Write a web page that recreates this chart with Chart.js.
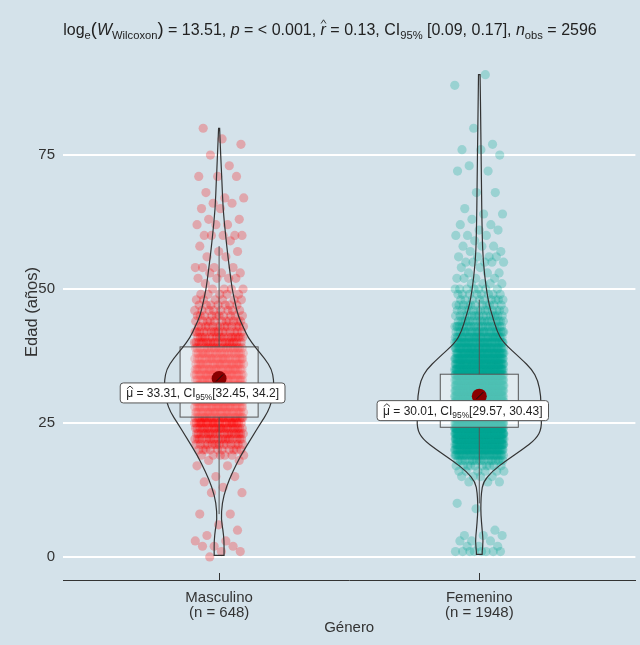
<!DOCTYPE html>
<html>
<head>
<meta charset="utf-8">
<script src="https://cdn.jsdelivr.net/npm/chart.js@4.4.1/dist/chart.umd.min.js"></script>
<style>
    html, body { margin: 0; padding: 0; background: #d4e2ea; }
    #wrap { width: 640px; height: 645px; }
</style>
</head>
<body>
<div id="wrap"><canvas id="chart_1" width="640" height="645"></canvas></div>
<script>
const categories = ["Masculino", "Femenino"]
const group_n = [648, 1948]
const y_ticks = [0, 25, 50, 75]

const masc_ages = [0, 1, 2, 3, 4, 5, 6, 8, 12, 13, 14, 15, 17, 18, 19, 20, 21, 22, 23, 24, 25, 26, 27, 28, 29, 30, 31, 32, 33, 34, 35, 36, 37, 38, 39, 40, 41, 42, 43, 44, 45, 46, 47, 48, 49, 50, 51, 52, 53, 54, 56, 57, 58, 59, 60, 62, 63, 65, 66, 67, 68, 71, 73, 75, 77, 78, 80]
const masc_counts = [1, 2, 3, 2, 1, 1, 1, 2, 2, 1, 1, 2, 2, 2, 6, 10, 14, 18, 20, 22, 24, 25, 26, 27, 27, 27, 26, 26, 26, 26, 26, 25, 24, 22, 20, 19, 17, 15, 13, 11, 10, 8, 7, 6, 5, 4, 1, 4, 3, 4, 2, 2, 1, 1, 5, 3, 2, 2, 2, 2, 1, 3, 1, 1, 1, 1, 1]
const fem_ages = [1, 2, 3, 4, 5, 9, 10, 14, 15, 16, 17, 18, 19, 20, 21, 22, 23, 24, 25, 26, 27, 28, 29, 30, 31, 32, 33, 34, 35, 36, 37, 38, 39, 40, 41, 42, 43, 44, 45, 46, 47, 48, 49, 50, 51, 52, 53, 54, 55, 56, 57, 58, 59, 60, 61, 62, 63, 64, 65, 68, 72, 73, 75, 76, 77, 80, 88, 90]
const fem_counts = [8, 3, 3, 3, 1, 1, 1, 3, 4, 6, 10, 18, 35, 58, 74, 86, 96, 102, 104, 104, 104, 101, 97, 93, 87, 82, 76, 70, 66, 60, 54, 48, 42, 37, 31, 26, 22, 18, 15, 13, 11, 9, 8, 7, 4, 4, 3, 2, 5, 4, 2, 3, 1, 3, 2, 2, 1, 2, 1, 2, 2, 1, 1, 2, 1, 1, 1, 1]

// violin outline: age and half width (x units)
const masc_violin_age = [0.3, 1, 3, 5, 7, 10, 13, 16, 19, 22, 25, 27, 29, 31, 33, 35, 37, 39, 41, 43, 45, 47.5, 50, 53, 56, 60, 65, 70, 75, 80]
const masc_violin_w = [0.019, 0.019, 0.019, 0.015, 0.008, 0.011, 0.027, 0.053, 0.084, 0.122, 0.16, 0.187, 0.202, 0.21, 0.21, 0.202, 0.176, 0.141, 0.111, 0.092, 0.073, 0.061, 0.05, 0.042, 0.034, 0.025, 0.015, 0.011, 0.006, 0.002]
const fem_violin_age = [0.5, 1, 3, 5, 8, 10, 12, 14, 16, 18, 20, 22, 24, 27, 30, 33, 35, 37, 40, 42, 45, 47, 50, 55, 60, 70, 80, 90]
const fem_violin_w = [0.011, 0.011, 0.015, 0.011, 0.006, 0.006, 0.008, 0.015, 0.05, 0.103, 0.164, 0.218, 0.24, 0.237, 0.237, 0.225, 0.202, 0.16, 0.092, 0.069, 0.05, 0.038, 0.027, 0.015, 0.011, 0.008, 0.006, 0.003]

// box plot + mean
const box_q1 = [26.1, 24.2]
const box_median = [32, 29]
const box_q3 = [39.2, 34.1]
const whisker_low = [8, 10]
const whisker_high = [58, 48]
const means = [33.31, 30.01]
const ci_low = ["32.45", "29.57"]
const ci_high = ["34.2", "30.43"]
const mean_text = ["33.31", "30.01"]

const bg = "#d4e2ea"
const font = "Liberation Sans, Arial, sans-serif"
const dot_colors = ["rgba(255,0,0,0.26)", "rgba(0,168,148,0.27)"]

function jitter_points(ages, counts, center, start){
    let pts = []
    let k = start
    for(let i = 0; i < ages.length; i++){
        for(let j = 0; j < counts[i]; j++){
            let f = (k * 0.6180339887 + 0.31) % 1
            pts.push({x: center + (f * 2 - 1) * 0.095, y: ages[i]})
            k++
        }
    }
    return pts
}

// rich text: list of [text, style] with style n / i / s (subscript) / b (bigger)
function draw_rich(ctx, parts, cx, y, size, align){
    const fnt = st => (st == "i" ? "italic " : "") + (st == "s" ? size * 0.7 : (st == "b" ? size * 1.15 : size)) + "px " + font
    let total = 0
    for(let p of parts){
        ctx.font = fnt(p[1])
        total += ctx.measureText(p[0]).width
    }
    let x = align == "center" ? cx - total / 2 : cx
    ctx.textAlign = "left"
    ctx.textBaseline = "alphabetic"
    for(let p of parts){
        ctx.font = fnt(p[1])
        let w = ctx.measureText(p[0]).width
        let dy = p[1] == "s" ? size * 0.25 : 0
        ctx.fillText(p[0], x, y + dy)
        if(p[2] == "hat"){
            ctx.save()
            ctx.lineWidth = 0.9
            ctx.beginPath()
            ctx.moveTo(x + w * 0.1, y - size * 0.72)
            ctx.lineTo(x + w * 0.55, y - size * 0.95)
            ctx.lineTo(x + w * 1.0, y - size * 0.72)
            ctx.stroke()
            ctx.restore()
        }
        x += w
    }
    return total
}

function smooth_side(ctx, pts){
    for(let i = 1; i < pts.length - 1; i++){
        let mx = (pts[i][0] + pts[i + 1][0]) / 2
        let my = (pts[i][1] + pts[i + 1][1]) / 2
        ctx.quadraticCurveTo(pts[i][0], pts[i][1], mx, my)
    }
    let last = pts[pts.length - 1]
    ctx.lineTo(last[0], last[1])
}

const bg_plugin = {
    id: "bg",
    beforeDraw(chart){
        const ctx = chart.ctx
        ctx.save()
        ctx.fillStyle = bg
        ctx.fillRect(0, 0, chart.width, chart.height)
        ctx.restore()
    }
}

const overlay_plugin = {
    id: "overlay",
    afterDatasetsDraw(chart){
        const ctx = chart.ctx
        const xs = chart.scales.x
        const ys = chart.scales.y
        const violins = [[masc_violin_age, masc_violin_w], [fem_violin_age, fem_violin_w]]
        ctx.save()
        for(let g = 0; g < 2; g++){
            let cx = xs.getPixelForValue(g + 1)
            let bx0 = xs.getPixelForValue(g + 1 - 0.15)
            let bx1 = xs.getPixelForValue(g + 1 + 0.15)
            let yq1 = ys.getPixelForValue(box_q1[g])
            let yq3 = ys.getPixelForValue(box_q3[g])
            // box
            ctx.fillStyle = "rgba(255,255,255,0.3)"
            ctx.fillRect(bx0, yq3, bx1 - bx0, yq1 - yq3)
            ctx.strokeStyle = "#555"
            ctx.lineWidth = 1
            ctx.strokeRect(bx0, yq3, bx1 - bx0, yq1 - yq3)
            ctx.beginPath()
            let ym = ys.getPixelForValue(box_median[g])
            ctx.moveTo(bx0, ym)
            ctx.lineTo(bx1, ym)
            ctx.moveTo(cx, yq3)
            ctx.lineTo(cx, ys.getPixelForValue(whisker_high[g]))
            ctx.moveTo(cx, yq1)
            ctx.lineTo(cx, ys.getPixelForValue(whisker_low[g]))
            ctx.stroke()

            // violin
            let ages = violins[g][0], ws = violins[g][1]
            let right = ages.map((a, i) => [xs.getPixelForValue(g + 1 + ws[i]), ys.getPixelForValue(a)])
            let left = ages.map((a, i) => [xs.getPixelForValue(g + 1 - ws[i]), ys.getPixelForValue(a)]).reverse()
            ctx.beginPath()
            ctx.moveTo(left[left.length - 1][0], left[left.length - 1][1])
            ctx.lineTo(right[0][0], right[0][1])
            smooth_side(ctx, right)
            ctx.lineTo(left[0][0], left[0][1])
            smooth_side(ctx, left)
            ctx.closePath()
            ctx.strokeStyle = "#333"
            ctx.lineWidth = 1.2
            ctx.stroke()

            // mean point with the short label segment
            let my = ys.getPixelForValue(means[g])
            let lx = cx - 16.5
            let ly = my + 14.5
            ctx.beginPath()
            ctx.fillStyle = "#8b0000"
            ctx.arc(cx, my, 7.5, 0, Math.PI * 2)
            ctx.fill()
            ctx.strokeStyle = "#111"
            ctx.lineWidth = 1
            ctx.beginPath()
            ctx.moveTo(cx + 4, my - 4)
            ctx.lineTo(cx - 3, my + 3)
            ctx.stroke()

            // label
            let parts = [["μ", "n", "hat"], [" = " + mean_text[g] + ", CI", "n"], ["95%", "s"], ["[" + ci_low[g] + ", " + ci_high[g] + "]", "n"]]
            let tw = 0
            for(let p of parts){
                ctx.font = (p[1] == "s" ? 8.4 : 12) + "px " + font
                tw += ctx.measureText(p[0]).width
            }
            let w = tw + 12, h = 20
            ctx.beginPath()
            ctx.roundRect(lx - w / 2, ly - h / 2, w, h, 3)
            ctx.fillStyle = "#fff"
            ctx.fill()
            ctx.strokeStyle = "#555"
            ctx.lineWidth = 1
            ctx.stroke()
            ctx.fillStyle = "#222"
            ctx.strokeStyle = "#222"
            draw_rich(ctx, parts, lx, ly + 4.5, 12, "center")
        }
        ctx.restore()
    },
    afterDraw(chart){
        const ctx = chart.ctx
        const xs = chart.scales.x
        const area = chart.chartArea
        ctx.save()
        // inward ticks on x axis
        ctx.strokeStyle = "#333"
        ctx.lineWidth = 1
        for(let g = 0; g < 2; g++){
            let cx = Math.round(xs.getPixelForValue(g + 1)) + 0.5
            ctx.beginPath()
            ctx.moveTo(cx, area.bottom)
            ctx.lineTo(cx, area.bottom - 7)
            ctx.stroke()
        }
        ctx.fillStyle = "#333"
        ctx.textAlign = "center"
        ctx.textBaseline = "alphabetic"
        ctx.font = "15px " + font
        for(let g = 0; g < 2; g++){
            let cx = xs.getPixelForValue(g + 1)
            ctx.fillText(categories[g], cx, 602)
            ctx.fillText("(n = " + group_n[g] + ")", cx, 617)
        }
        ctx.fillText("Género", (area.left + area.right) / 2, 632)
        ctx.save()
        ctx.font = "16.5px " + font
        ctx.translate(37, 312)
        ctx.rotate(-Math.PI / 2)
        ctx.fillText("Edad (años)", 0, 0)
        ctx.restore()

        // subtitle with stats
        ctx.fillStyle = "#222"
        ctx.strokeStyle = "#222"
        let title = [["log", "n"], ["e", "s"], ["(", "b"], ["W", "i"], ["Wilcoxon", "s"], [")", "b"],
            [" = 13.51, ", "n"], ["p", "i"], [" = < 0.001, ", "n"], ["r", "i", "hat"], [" = 0.13, CI", "n"],
            ["95%", "s"], [" [0.09, 0.17], ", "n"], ["n", "i"], ["obs", "s"], [" = 2596", "n"]]
        draw_rich(ctx, title, 330, 35, 16, "center")
        ctx.restore()
    }
}

const ctx_1 = document.getElementById("chart_1").getContext("2d")
const config_1 = {
    type: "scatter",
    data: {
        datasets: [
            {
                data: jitter_points(masc_ages, masc_counts, 1, 0),
                backgroundColor: dot_colors[0],
                borderWidth: 0,
                pointRadius: 4.6,
                pointHoverRadius: 4.6
            },
            {
                data: jitter_points(fem_ages, fem_counts, 2, 0),
                backgroundColor: dot_colors[1],
                borderWidth: 0,
                pointRadius: 4.6,
                pointHoverRadius: 4.6
            }
        ]
    },
    options: {
        responsive: false,
        animation: false,
        events: [],
        layout: {padding: {top: 50, right: 1, left: 0, bottom: 0}},
        plugins: {legend: {display: false}, tooltip: {enabled: false}},
        scales: {
            x: {
                type: "linear",
                min: 0.4,
                max: 2.6,
                afterFit: s => { s.height = 65 },
                afterBuildTicks: s => { s.ticks = [{value: 1}, {value: 2}] },
                grid: {display: false},
                border: {display: true, color: "#333", width: 1},
                ticks: {display: false}
            },
            y: {
                min: -4.3,
                max: 94.6,
                afterFit: s => { s.width = 63 },
                afterBuildTicks: s => { s.ticks = y_ticks.map(v => ({value: v})) },
                grid: {color: "#ffffff", lineWidth: 2, drawTicks: false},
                border: {display: false},
                ticks: {color: "#333", font: {family: font, size: 15}, padding: 8}
            }
        }
    },
    plugins: [bg_plugin, overlay_plugin]
}
const chart_1 = new Chart(ctx_1, config_1)
</script>
</body>
</html>
